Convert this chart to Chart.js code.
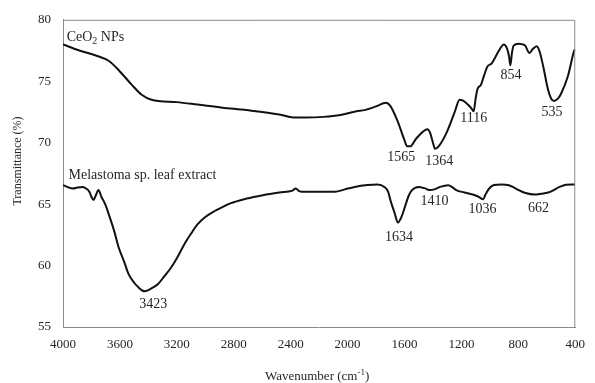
<!DOCTYPE html>
<html><head><meta charset="utf-8">
<script src="https://cdn.jsdelivr.net/npm/chart.js@4.4.0/dist/chart.umd.min.js"></script>
<style>html,body{margin:0;padding:0;background:#fff;} #wrap{width:595px;height:383px;}</style>
</head><body><div id="wrap"><canvas id="c" width="595" height="383"></canvas></div>
<script>
// ---- data ----
const ceoWavenumber = [4000,3885,3769,3677,3608,3516,3447,3378,3200,3055,2880,2710,2480,2380,2300,2169,2050,1938,1881,1800,1731,1700,1650,1600,1582,1560,1520,1470,1439,1420,1400,1386,1360,1305,1247,1213,1185,1155,1130,1114,1100,1086,1063,1040,1017,987,960,936,902,879,865,856,845,833,798,770,752,722,700,671,650,625,591,570,549,520,499,452,407,400];
const ceoTransmittance = [78.0,77.5,77.1,76.65,75.9,74.7,73.9,73.5,73.3,73.1,72.85,72.65,72.3,72.05,72.05,72.1,72.25,72.55,72.65,72.95,73.25,73.0,71.8,70.2,69.7,69.7,70.3,70.9,71.1,70.8,70.0,69.5,69.7,70.8,72.5,73.5,73.4,73.1,72.8,72.55,73.6,74.4,74.7,75.5,76.2,76.45,77.0,77.5,78.0,77.65,77.0,76.3,77.3,77.9,78.05,78.0,77.9,77.3,77.6,77.85,77.4,76.2,74.3,73.6,73.4,73.6,74.0,75.4,77.5,77.6];
const melWavenumber = [4000,3960,3931,3900,3862,3835,3815,3800,3786,3770,3751,3730,3700,3677,3640,3608,3570,3539,3500,3470,3440,3424,3400,3370,3332,3290,3240,3190,3148,3100,3055,3000,2940,2880,2825,2710,2595,2480,2387,2364,2340,2318,2200,2088,2020,1950,1860,1789,1742,1715,1696,1670,1646,1620,1593,1570,1547,1501,1460,1420,1390,1350,1293,1260,1236,1180,1121,1080,1047,1030,1005,971,920,867,830,798,750,683,640,591,550,511,465,420,400];
const melTransmittance = [66.55,66.35,66.27,66.35,66.4,66.25,66.0,65.6,65.33,65.7,66.14,65.6,64.9,64.13,62.8,61.45,60.3,59.3,58.6,58.23,57.95,57.9,58.0,58.2,58.5,59.1,59.84,60.8,61.72,62.6,63.35,63.95,64.4,64.75,65.06,65.45,65.73,65.95,66.1,66.27,66.05,66.0,66.0,66.0,66.2,66.4,66.55,66.6,66.4,66.0,65.2,64.3,63.5,64.0,64.93,65.7,66.14,66.4,66.3,66.14,66.2,66.4,66.54,66.35,66.14,65.95,65.78,65.6,65.4,65.8,66.27,66.55,66.6,66.54,66.35,66.14,65.9,65.78,65.85,65.94,66.15,66.4,66.58,66.6,66.6];
const xTickLabels = [4000,3600,3200,2800,2400,2000,1600,1200,800,400];
const yTickLabels = [55,60,65,70,75,80];
const peakTexts = ['1565','1364','1116','854','535','3423','1634','1410','1036','662'];
const seriesNames = ['CeO2 NPs','Melastoma sp. leaf extract'];

// ---- label anchors (data units: wavenumber, transmittance baseline) ----
const peakAnchors = [[1622,68.47],[1356,68.22],[1114,71.68],[851,75.16],[564,72.16],[3366,56.58],[1639,61.98],[1390,64.96],[1052,64.26],[658,64.39]];
const nameAnchors = [[3974,78.29],[3961,67.04]];

const FONT = '"Liberation Serif","Times New Roman",serif';
const TXT = '#262626';
const AXIS = '#8a8a8a';

function pts(xs, ys){ return xs.map((v,i)=>({x:v,y:ys[i]})); }

const textPlugin = {
  id:'texts',
  afterDatasetsDraw(chart){
    const {ctx, scales:{x,y}, chartArea:a} = chart;
    ctx.save();
    // top and right frame
    ctx.strokeStyle = AXIS; ctx.lineWidth = 1;
    ctx.beginPath();
    ctx.moveTo(a.left, a.top+0.5); ctx.lineTo(a.right-0.5, a.top+0.5); ctx.lineTo(a.right-0.5, a.bottom);
    ctx.stroke();
    ctx.fillStyle = TXT;
    ctx.textBaseline = 'alphabetic';
    // peak labels
    ctx.font = '14px ' + FONT; ctx.textAlign = 'center';
    peakTexts.forEach((t,i)=>{
      ctx.fillText(t, x.getPixelForValue(peakAnchors[i][0]), y.getPixelForValue(peakAnchors[i][1]));
    });
    // series names
    ctx.textAlign = 'left';
    let px = x.getPixelForValue(nameAnchors[0][0]), py = y.getPixelForValue(nameAnchors[0][1]);
    ctx.font = '14px ' + FONT;
    ctx.fillText('CeO', px, py); px += ctx.measureText('CeO').width;
    ctx.font = '10px ' + FONT;
    ctx.fillText('2', px, py+3); px += ctx.measureText('2').width;
    ctx.font = '14px ' + FONT;
    ctx.fillText(' NPs', px, py);
    ctx.fillText(seriesNames[1], x.getPixelForValue(nameAnchors[1][0]), y.getPixelForValue(nameAnchors[1][1]));
    // axis titles
    ctx.font = '13px ' + FONT;
    const t1 = 'Wavenumber (cm', t2 = '-1', t3 = ')';
    const w1 = ctx.measureText(t1).width, w3 = ctx.measureText(t3).width;
    ctx.font = '9px ' + FONT; const w2 = ctx.measureText(t2).width;
    let sx = (a.left + a.right)/2 - (w1+w2+w3)/2 - 2, sy = 380;
    ctx.font = '13px ' + FONT; ctx.fillText(t1, sx, sy); sx += w1;
    ctx.font = '9px ' + FONT; ctx.fillText(t2, sx, sy-5); sx += w2;
    ctx.font = '13px ' + FONT; ctx.fillText(t3, sx, sy);
    ctx.translate(21, 161); ctx.rotate(-Math.PI/2);
    ctx.font = '12px ' + FONT; ctx.textAlign = 'center';
    ctx.fillText('Transmittance (%)', 0, 0);
    ctx.restore();
  }
};

new Chart(document.getElementById('c'), {
  type:'line',
  data:{datasets:[
    {label:seriesNames[0], data:pts(ceoWavenumber, ceoTransmittance), borderColor:'#111', borderWidth:2, pointRadius:0, cubicInterpolationMode:'monotone', fill:false},
    {label:seriesNames[1], data:pts(melWavenumber, melTransmittance), borderColor:'#111', borderWidth:2, pointRadius:0, cubicInterpolationMode:'monotone', fill:false}
  ]},
  options:{
    responsive:false, animation:false, events:[],
    layout:{padding:{top:16,right:11,left:0,bottom:0}},
    plugins:{legend:{display:false}, tooltip:{enabled:false}},
    scales:{
      x:{type:'linear', reverse:true, min:400, max:4000,
        afterBuildTicks:s=>{ s.ticks = xTickLabels.map(v=>({value:v})); },
        afterFit:s=>{ s.height = 56; },
        ticks:{padding:10, font:{family:FONT,size:13}, color:TXT, callback:v=>String(v), maxRotation:0, autoSkip:false},
        grid:{display:false, drawTicks:false}, border:{color:AXIS, width:1}},
      y:{type:'linear', min:55, max:80,
        afterBuildTicks:s=>{ s.ticks = yTickLabels.map(v=>({value:v})); },
        afterFit:s=>{ s.width = 63; },
        ticks:{padding:12, font:{family:FONT,size:13}, color:TXT, callback:v=>String(v)},
        grid:{display:false, drawTicks:false}, border:{color:AXIS, width:1}}
    }
  },
  plugins:[textPlugin]
});
</script></body></html>
